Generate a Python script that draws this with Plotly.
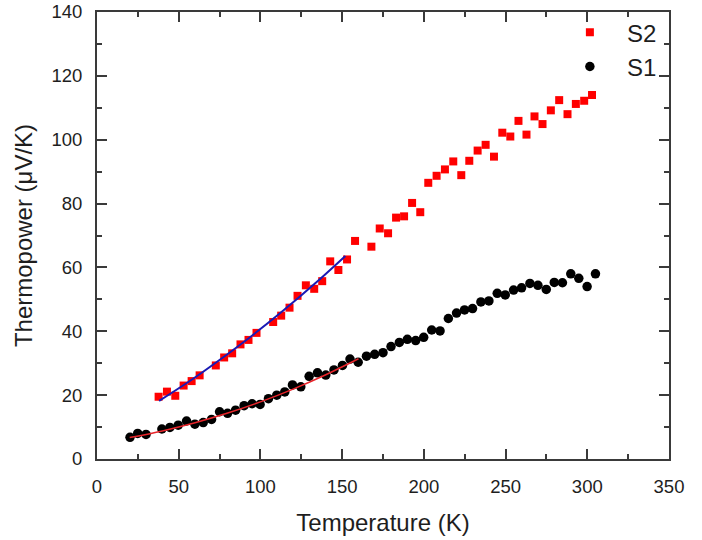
import plotly.graph_objects as go

# S2 (red squares)
s2_T = [37.7, 42.8, 47.9, 53.0, 57.9, 62.8, 72.7, 77.8, 82.7, 87.8, 92.7, 97.6,
        107.8, 112.7, 117.8, 122.7, 127.8, 132.9, 137.8, 142.7, 147.7, 153.0,
        157.9, 167.9, 173.0, 178.1, 183.0, 187.9, 192.8, 197.8, 202.7, 207.8,
        212.9, 218.0, 222.9, 227.8, 232.9, 237.8, 242.9, 248.0, 252.9, 257.9,
        262.8, 267.7, 272.6, 277.7, 282.8, 287.9, 293.0, 298.1, 302.9]
s2_S = [19.5, 21.1, 19.8, 23.0, 24.4, 26.2, 29.3, 31.8, 33.1, 35.9, 37.3, 39.5,
        42.9, 44.9, 47.4, 51.1, 54.4, 53.3, 55.7, 61.9, 59.2, 62.5,
        68.3, 66.5, 72.2, 70.7, 75.6, 76.0, 80.2, 77.3, 86.5, 88.7,
        90.7, 93.2, 88.9, 93.4, 96.6, 98.4, 94.7, 102.2, 101.0, 105.9,
        101.6, 107.3, 104.9, 109.2, 112.4, 108.0, 111.2, 112.2, 114.0]

# S1 (black circles)
s1_T = [20.2, 24.9, 30.0, 39.7, 44.6, 49.7, 54.8, 59.9, 65.0, 70.1, 75.0, 79.9,
        84.8, 90.0, 94.9, 99.8, 104.9, 110.0, 114.9, 119.6, 124.7, 129.8, 134.9,
        140.0, 145.0, 150.2, 154.8, 159.8, 164.9, 169.9, 175.0, 179.9, 185.0,
        189.9, 195.0, 199.9, 204.8, 209.9, 215.0, 220.0, 224.9, 229.8, 234.9,
        239.8, 244.9, 249.8, 254.9, 259.8, 264.9, 269.8, 274.9, 279.8, 284.8,
        289.9, 294.8, 299.9, 305.0]
s1_S = [6.8, 8.0, 7.7, 9.4, 9.9, 10.6, 11.9, 10.9, 11.4, 12.4, 14.8, 14.3,
        15.3, 16.7, 17.3, 17.1, 18.9, 20.0, 21.0, 23.2, 22.6, 25.9, 27.0,
        26.3, 27.9, 29.3, 31.3, 30.3, 32.2, 32.8, 33.3, 35.2, 36.5,
        37.5, 37.1, 38.1, 40.4, 40.1, 44.0, 45.7, 46.7, 47.1, 49.2,
        49.5, 51.9, 51.4, 52.9, 53.6, 55.0, 54.4, 53.1, 55.3, 55.2,
        58.0, 56.6, 54.0, 58.0]

# fit curves
fit2_T = [38, 57, 76, 95, 114, 133, 152]
fit2_S = [18.2, 24.5, 31.4, 38.7, 46.5, 54.8, 63.6]
fit1_T = [20, 40, 60, 80, 100, 120, 140, 160]
fit1_S = [6.7, 8.8, 11.35, 14.4, 17.9, 21.9, 26.4, 31.4]

x_ticks = [0, 50, 100, 150, 200, 250, 300, 350]
y_ticks = [0, 20, 40, 60, 80, 100, 120, 140]

FONT = "Liberation Sans, Arial, sans-serif"
TXT = "#1e1e1e"

fig = go.Figure()
fig.add_trace(go.Scatter(x=s2_T, y=s2_S, mode="markers", name="S2",
                         legendgroup="a",
                         marker=dict(symbol="square", size=8, color="#ff0000")))
fig.add_trace(go.Scatter(x=s1_T, y=s1_S, mode="markers", name="S1",
                         legendgroup="b",
                         marker=dict(symbol="circle", size=9.5, color="#000000")))
fig.add_trace(go.Scatter(x=fit2_T, y=fit2_S, mode="lines", showlegend=False,
                         line=dict(color="#1a1ab4", width=2, shape="spline")))
fig.add_trace(go.Scatter(x=fit1_T, y=fit1_S, mode="lines", showlegend=False,
                         line=dict(color="#e8242a", width=1.5, shape="spline")))

axis_common = dict(
    showline=True, linecolor="#3a3a3a", linewidth=2, mirror="ticks",
    ticks="inside", ticklen=10, tickwidth=1.5, tickcolor="#3a3a3a",
    showgrid=False, zeroline=False,
    tickfont=dict(family=FONT, size=18.5, color=TXT),
    minor=dict(ticks="inside", ticklen=5, tickwidth=1.5, tickcolor="#3a3a3a", showgrid=False),
)

fig.update_xaxes(range=[0, 350], tickvals=x_ticks, minor_dtick=25, ticklabelstandoff=10,
                 title=dict(text="Temperature (K)", font=dict(family=FONT, size=24, color=TXT),
                            standoff=18),
                 **axis_common)
fig.update_yaxes(range=[0, 140], tickvals=y_ticks, minor_dtick=10, ticklabelstandoff=9,
                 title=dict(text="Thermopower (μV/K)", font=dict(family=FONT, size=24, color=TXT),
                            standoff=12),
                 **axis_common)

fig.update_layout(
    width=702, height=540,
    margin=dict(l=97, r=33, t=12, b=81, autoexpand=False),
    plot_bgcolor="white", paper_bgcolor="white",
    showlegend=True,
    legend=dict(x=0.797, y=1.004, xanchor="left", yanchor="top", itemwidth=64,
                font=dict(family=FONT, size=24, color=TXT),
                bgcolor="rgba(0,0,0,0)", traceorder="grouped", tracegroupgap=0),
)

fig.write_html("out.html")
